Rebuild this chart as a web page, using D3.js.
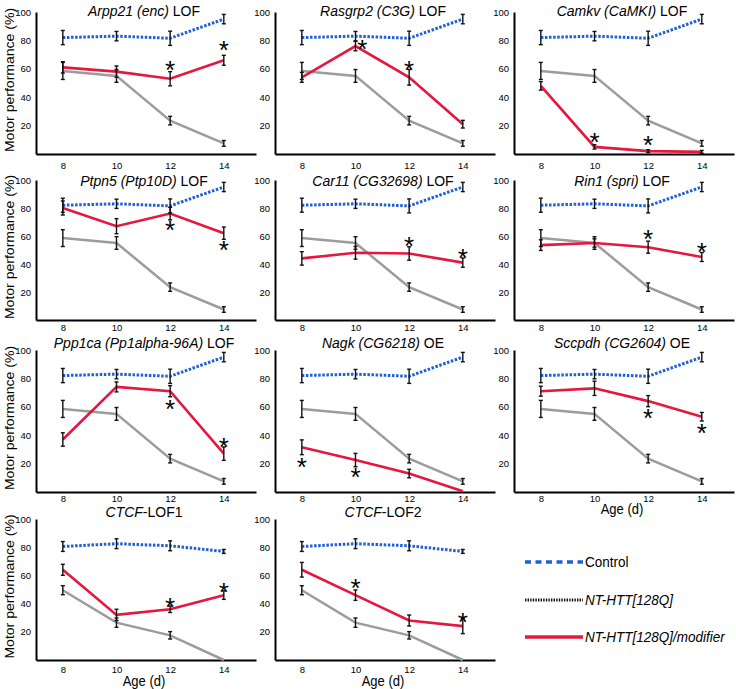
<!DOCTYPE html>
<html>
<head>
<meta charset="utf-8">
<script src="https://cdn.jsdelivr.net/npm/d3@7"></script>
<style>
  html, body { margin: 0; padding: 0; background: #fff; }
  svg { display: block; font-family: "Liberation Sans", Arial, sans-serif; }
</style>
</head>
<body>
<div id="chart"></div>
<script>
const ages = [8, 10, 12, 14];
const yTicks = [20, 40, 60, 80, 100];

// control + NT-HTT[128Q] runs shared by the first nine panels
const controlMean = [82, 83, 81.5, 95];
const controlErr = [5, 3.3, 5, 3.3];
const httMean = [58.5, 55, 23.5, 7.5];
const httErr = [6, 4.5, 3, 2];

// the CTCF panels have their own runs
const ctcfControlMean = [80.5, 82.5, 81, 77];
const ctcfControlErr = [3.5, 3.5, 3.5, 1.4];
const ctcfHttMean = [49.5, 26.5, 17.5, 0];
const ctcfHttErr = [3.2, 3.3, 2.6, 0];

const geneNames = ['Arpp21 (enc)', 'Rasgrp2 (C3G)', 'Camkv (CaMKI)', 'Ptpn5 (Ptp10D)', 'Car11 (CG32698)', 'Rin1 (spri)',
  'Ppp1ca (Pp1alpha-96A)', 'Nagk (CG6218)', 'Sccpdh (CG2604)', 'CTCF', 'CTCF'];
const geneSuffixes = [' LOF', ' LOF', ' LOF', ' LOF', ' LOF', ' LOF', ' LOF', ' OE', ' OE', '-LOF1', '-LOF2'];

const modifierMeans = [
  [61, 58, 53, 66],
  [54, 76, 54, 21],
  [48, 5, 2, 1.5],
  [80, 67, 76, 62],
  [44, 48, 47.5, 41],
  [53.5, 55, 52, 45],
  [37, 74, 71, 27],
  [31.5, 22.5, 13, 0.5],
  [71, 73, 64, 53],
  [64, 32, 36, 46],
  [64, 46, 28, 24]
];
const modifierErrs = [
  [4, 4, 5, 3.5],
  [3.5, 3.3, 5.5, 2.7],
  [3, 1.5, 1, 1],
  [5, 5.4, 4.5, 4.4],
  [4.8, 4.5, 4.8, 3.3],
  [3.8, 3, 4.3, 3.2],
  [4.7, 3.5, 3.9, 4.7],
  [5.2, 4.7, 3, 0],
  [3.5, 5, 3.9, 3],
  [3.9, 4, 2.3, 3],
  [5.2, 3.7, 3.9, 5.3]
];
// significance asterisks: [age, level]
const starMarks = [
  [[12, 63], [14, 77]],
  [[10.25, 78], [12, 63]],
  [[10, 12], [12, 10]],
  [[12, 68], [14, 54]],
  [[12, 56.5], [14, 48]],
  [[12, 62], [14, 52.5]],
  [[12, 62.5], [14, 35.5]],
  [[8, 21.5], [10, 14.5]],
  [[12, 56], [14, 45.5]],
  [[12, 41.5], [14, 52]],
  [[10, 55], [14, 31]]
];

const legendLabels = ['Control', 'NT-HTT[128Q]', 'NT-HTT[128Q]/modifier'];

const width = 736;
const height = 689;
const colX = [36, 275, 514];
const rowTop = [12, 180, 350, 519];
const rowBottom = [154, 320, 492, 660];
const titleOffset = [4, 6, -2, -2];
const xTickPad = [8, 4, 3, 6];
const ageLabelOffset = [25, 25, 22, 26];
const axisLength = 220;
const textStretch = 1.08;
const blue = '#1f5fdc';
const red = '#e5173f';
const gray = '#9c9c9c';
const capHalf = 2;
const starSize = 26;

const svg = d3.select('#chart').append('svg')
  .attr('width', width)
  .attr('height', height);

function stretchedText(parent, x, y, size) {
  return parent.append('text')
    .attr('transform', `translate(${x},${y}) scale(1,${textStretch})`)
    .attr('font-size', size)
    .attr('fill', '#000');
}

modifierMeans.forEach((mods, i) => {
  const row = Math.floor(i / 3);
  const col = i % 3;
  const x0 = colX[col];
  const isCtcf = i >= 9;

  const x = d3.scaleLinear().domain([7, 15.2]).range([x0, x0 + axisLength]);
  const y = d3.scaleLinear().domain([0, 100]).range([rowBottom[row], rowTop[row]]);

  const g = svg.append('g');

  g.append('g')
    .attr('transform', `translate(${x0},0)`)
    .call(d3.axisLeft(y).tickValues(yTicks).tickSize(0).tickSizeOuter(0).tickPadding(5))
    .attr('font-size', 9.5).attr('font-family', null)
    .call(a => a.select('.domain').attr('stroke-width', 2));

  g.append('g')
    .attr('transform', `translate(0,${rowBottom[row]})`)
    .call(d3.axisBottom(x).tickValues(ages).tickSize(0).tickSizeOuter(0).tickPadding(xTickPad[row]))
    .attr('font-size', 9.5).attr('font-family', null)
    .call(a => a.select('.domain').attr('stroke-width', 2));

  const title = stretchedText(g, x0 + 108, rowTop[row] + titleOffset[row], 14)
    .attr('text-anchor', 'middle');
  title.append('tspan').attr('font-style', 'italic').text(geneNames[i]);
  title.append('tspan').text(geneSuffixes[i]);

  const series = [
    { mean: isCtcf ? ctcfControlMean : controlMean, err: isCtcf ? ctcfControlErr : controlErr, color: blue, dash: '2.5,1.6', w: 3 },
    { mean: isCtcf ? ctcfHttMean : httMean, err: isCtcf ? ctcfHttErr : httErr, color: gray, dash: null, w: 2.5 },
    { mean: mods, err: modifierErrs[i], color: red, dash: null, w: 2.6 }
  ];

  const line = d3.line().x((d, k) => x(ages[k])).y(d => y(d));

  g.append('g')
    .attr('fill', 'none')
    .selectAll('path')
    .data(series)
    .join('path')
      .attr('stroke', d => d.color)
      .attr('stroke-width', d => d.w)
      .attr('stroke-dasharray', d => d.dash)
      .attr('d', d => line(d.mean));

  const bars = series.flatMap(s => s.mean.map((m, k) => ({ age: ages[k], lo: m - s.err[k], hi: m + s.err[k], err: s.err[k] })))
    .filter(b => b.err > 0);

  const eb = g.append('g')
    .attr('stroke', '#111')
    .attr('stroke-width', 1.4)
    .selectAll('g')
    .data(bars)
    .join('g');
  eb.append('line')
    .attr('x1', d => x(d.age)).attr('x2', d => x(d.age))
    .attr('y1', d => y(d.lo)).attr('y2', d => y(d.hi));
  eb.append('line')
    .attr('x1', d => x(d.age) - capHalf).attr('x2', d => x(d.age) + capHalf)
    .attr('y1', d => y(d.lo)).attr('y2', d => y(d.lo));
  eb.append('line')
    .attr('x1', d => x(d.age) - capHalf).attr('x2', d => x(d.age) + capHalf)
    .attr('y1', d => y(d.hi)).attr('y2', d => y(d.hi));

  g.append('g')
    .selectAll('text')
    .data(starMarks[i])
    .join('text')
      .attr('x', d => x(d[0]))
      .attr('y', d => y(d[1]) + starSize * 0.55)
      .attr('text-anchor', 'middle')
      .attr('font-size', starSize)
      .text('*');

  if (col === 0) {
    const cy = (rowTop[row] + rowBottom[row]) / 2 - 3;
    svg.append('text')
      .attr('transform', `translate(14,${cy}) rotate(-90) scale(${textStretch},1)`)
      .attr('text-anchor', 'middle')
      .attr('font-size', 13)
      .text('Motor performance (%)');
  }
  if (i >= 8) {
    stretchedText(g, x0 + 108, rowBottom[row] + ageLabelOffset[row], 13)
      .attr('text-anchor', 'middle')
      .text('Age (d)');
  }
});

// legend
const legendX0 = 525;
const legendX1 = 583;
const legendY = [562, 600, 637];
const legendStyles = [
  { color: blue, dash: '6,4.5', w: 3.5 },
  { color: '#111', dash: '1.4,1.2', w: 3 },
  { color: red, dash: null, w: 3.5 }
];

const legend = svg.append('g');
legendLabels.forEach((label, k) => {
  legend.append('line')
    .attr('x1', legendX0).attr('x2', legendX1)
    .attr('y1', legendY[k]).attr('y2', legendY[k])
    .attr('stroke', legendStyles[k].color)
    .attr('stroke-width', legendStyles[k].w)
    .attr('stroke-dasharray', legendStyles[k].dash);
  stretchedText(legend, legendX1 + 2, legendY[k] + 5, 13.5)
    .attr('font-style', k === 0 ? null : 'italic')
    .text(label);
});
</script>
</body>
</html>
